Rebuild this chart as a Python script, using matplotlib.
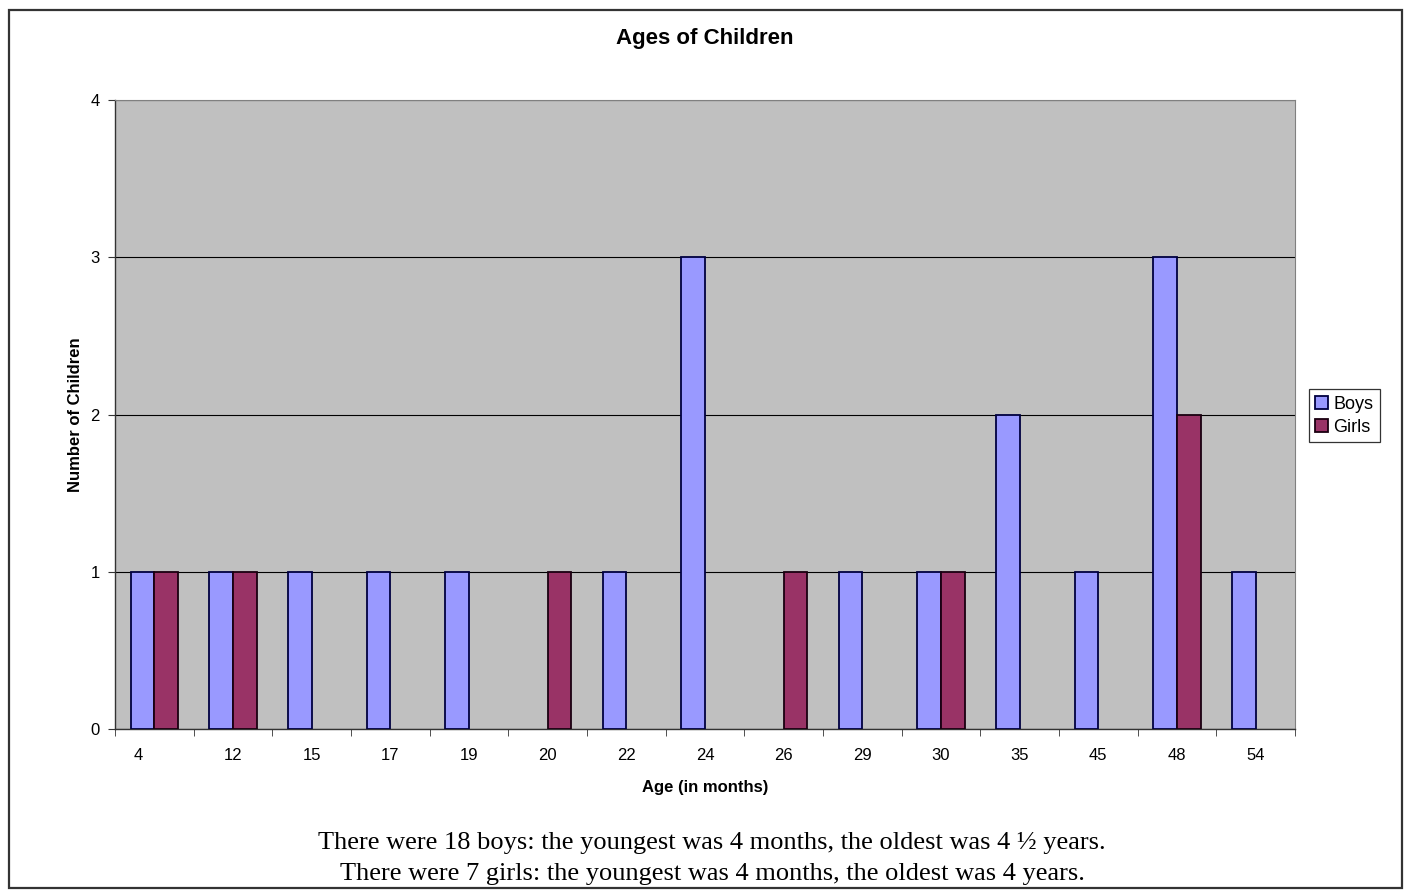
import numpy as np
import matplotlib
matplotlib.use('Agg')
import matplotlib.pyplot as plt
from matplotlib.patches import Rectangle
from matplotlib.transforms import ScaledTranslation

plt.rcParams['font.family'] = ['Liberation Sans', 'DejaVu Sans']

ages = ['4', '12', '15', '17', '19', '20', '22', '24', '26', '29', '30', '35', '45', '48', '54']
boys = [1, 1, 1, 1, 1, 0, 1, 3, 0, 1, 1, 2, 1, 3, 1]
girls = [1, 1, 0, 0, 0, 1, 0, 0, 1, 0, 1, 0, 0, 2, 0]

fig = plt.figure(figsize=(14.1, 8.9), dpi=100)
ax = fig.add_axes([0.0816, 0.1809, 0.8368, 0.7067])

# outer chart border
fig.patches.append(Rectangle((0.0064, 0.002), 0.988, 0.987, transform=fig.transFigure,
                             fill=False, edgecolor='#333333', linewidth=1.6))

x = np.arange(len(ages))
w = 0.3
b = np.array(boys)
g = np.array(girls)
# skip empty counts so no flat outline is drawn on the axis
ax.set_facecolor('#C0C0C0')
ax.bar(x[b > 0] - w / 2, b[b > 0], w, color='#9999FF', edgecolor='#000040', linewidth=1.3,
       label='Boys', zorder=3)
ax.bar(x[g > 0] + w / 2, g[g > 0], w, color='#993366', edgecolor='#1a0010', linewidth=1.3,
       label='Girls', zorder=3)

ax.set_xlim(-0.5, len(ages) - 0.5)
ax.set_ylim(0, 4)
ax.set_yticks([0, 1, 2, 3, 4])
ax.yaxis.grid(True, color='black', linewidth=0.8, zorder=1)
ax.set_axisbelow(True)

ax.set_xticks(x)
ax.set_xticklabels(ages, fontsize=12)
ax.set_xticks(np.arange(-0.5, len(ages)), minor=True)
ax.tick_params(axis='x', which='major', length=0, pad=14)
ax.tick_params(axis='x', which='minor', length=5, direction='out', color='#333333')
ax.tick_params(axis='y', length=5, direction='out', labelsize=12, pad=6, color='#333333')

# first category label sits a little left of its slot
first = ax.get_xticklabels()[0]
first.set_transform(first.get_transform() + ScaledTranslation(-0.16, 0, fig.dpi_scale_trans))

for side in ['top', 'right']:
    ax.spines[side].set_color('#808080')
    ax.spines[side].set_linewidth(0.8)
for side in ['left', 'bottom']:
    ax.spines[side].set_color('#333333')
    ax.spines[side].set_linewidth(1.0)

ax.set_title('Ages of Children', fontsize=16, fontweight='bold', pad=40)
ax.set_ylabel('Number of Children', fontsize=12, fontweight='bold', labelpad=5)
ax.set_xlabel('Age (in months)', fontsize=12, fontweight='bold', labelpad=12)

leg = ax.legend(loc='center left', bbox_to_anchor=(1.012, 0.498), fontsize=13,
                frameon=True, fancybox=False, edgecolor='black', handlelength=0.7,
                handleheight=0.7, handletextpad=0.3, borderpad=0.35, labelspacing=0.35,
                borderaxespad=0)
leg.get_frame().set_linewidth(0.9)

serif = ['Liberation Serif', 'DejaVu Serif']
fig.text(0.505, 0.053, 'There were 18 boys: the youngest was 4 months, the oldest was 4 \u00bd years.',
         ha='center', va='center', fontsize=19, family=serif)
fig.text(0.505, 0.018, 'There were 7 girls: the youngest was 4 months, the oldest was 4 years.',
         ha='center', va='center', fontsize=19, family=serif)

fig.savefig('out.png', dpi=100)
